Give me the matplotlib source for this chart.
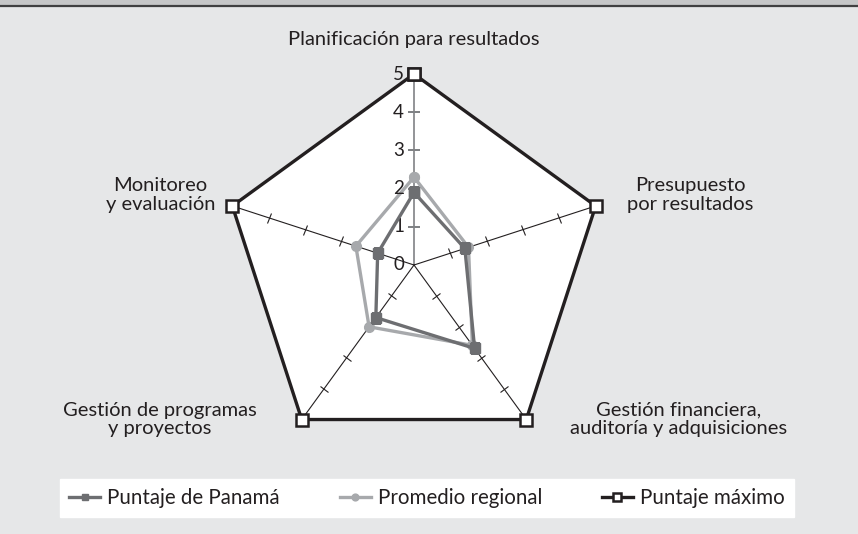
import numpy as np
import matplotlib.pyplot as plt
from matplotlib.markers import MarkerStyle
from matplotlib.transforms import Affine2D
from matplotlib.lines import Line2D
from matplotlib.patches import Rectangle

plt.rcParams['font.family'] = ['Lato', 'DejaVu Sans']

# datos
categorias = ["Planificación para resultados", "Presupuesto\npor resultados",
              "Gestión financiera,\nauditoría y adquisiciones",
              "Gestión de programas\ny proyectos", "Monitoreo\ny evaluación"]
panama = [1.9, 1.4, 2.7, 1.7, 1.0]
regional = [2.3, 1.5, 2.6, 2.0, 1.6]
maximo = [5, 5, 5, 5, 5]
niveles = [0, 1, 2, 3, 4, 5]
series = ["Puntaje de Panamá", "Promedio regional", "Puntaje máximo"]

W, H = 858, 534
fig = plt.figure(figsize=(W / 100, H / 100), dpi=100)
fig.patch.set_facecolor('#e6e7e8')

# franja superior
fig.add_artist(Rectangle((0, 1 - 5 / H), 1, 5 / H, transform=fig.transFigure,
                         color='#c6c7c8', lw=0))
fig.add_artist(Line2D([0, 1], [1 - 6 / H, 1 - 6 / H], transform=fig.transFigure,
                      color='#404041', lw=1.6))

cx, cy, rad = 414, 265, 191
ax = fig.add_axes([(cx - rad) / W, (H - cy - rad) / H, 2 * rad / W, 2 * rad / H],
                  projection='polar')
ax.set_theta_offset(np.pi / 2)
ax.set_theta_direction(-1)
ax.set_ylim(0, 5)
ax.set_facecolor('none')
ax.grid(False)
ax.spines['polar'].set_visible(False)
ax.set_xticks([])
ax.set_yticks([])

n = len(categorias)
ang = np.arange(n) * 2 * np.pi / n
ang_c = np.append(ang, ang[0])

def cerrar(v):
    return np.append(v, v[0])

# fondo blanco dentro del pentágono
ax.fill(ang_c, cerrar(maximo), color='white', zorder=0)

# ejes radiales con marcas
for i, a in enumerate(ang):
    col = '#808285' if i == 0 else '#231f20'
    lw = 1.2 if i == 0 else 0.8
    ax.plot([a, a], [0, 5], color=col, lw=lw, zorder=1)
    rot = 90 - np.degrees(a)  # ángulo en pantalla
    m = MarkerStyle('|', transform=Affine2D().rotate_deg(rot))
    ax.plot([a] * 4, niveles[1:5], ls='none', marker=m, ms=9 if i == 0 else 7,
            mec=col, mew=lw, zorder=1)

for v in niveles:
    ax.annotate(str(v), xy=(0, v), xytext=(-10, 0), textcoords='offset pixels',
                ha='right', va='center', fontsize=13.5, color='#231f20')

ax.plot(ang_c, cerrar(maximo), color='#231f20', lw=2.4, marker='s', ms=8,
        mfc='white', mec='#231f20', mew=1.8, zorder=4, clip_on=False,
        label=series[2])
ax.plot(ang_c, cerrar(regional), color='#a7a9ac', lw=2.4, marker='o', ms=7,
        zorder=2, label=series[1])
ax.plot(ang_c, cerrar(panama), color='#6d6e71', lw=2.4, marker='s', ms=7,
        zorder=3, label=series[0])

# etiquetas de categorías
offs = [(0, 34), (95, 11), (152, 0), (-142, 0), (-72, 11)]
for a, lab, o in zip(ang, categorias, offs):
    ax.annotate(lab, xy=(a, 5), xytext=o, textcoords='offset pixels',
                ha='center', va='center', fontsize=14.5, color='#231f20',
                linespacing=1.1, annotation_clip=False)

# leyenda
h, l = ax.get_legend_handles_labels()
orden = [2, 1, 0]
leg = fig.legend([h[i] for i in orden], [l[i] for i in orden], loc='center',
                 bbox_to_anchor=(427 / W, 1 - 498 / H), ncol=3, frameon=True,
                 fancybox=False, fontsize=14.8, handlelength=1.5,
                 handletextpad=0.35, columnspacing=2.9, borderpad=0.45,
                 markerscale=0.7)
leg.get_frame().set_edgecolor('white')
leg.get_frame().set_facecolor('white')
leg.get_frame().set_alpha(1)
for t in leg.get_texts():
    t.set_color('#231f20')

fig.savefig('out.png', dpi=100, facecolor=fig.get_facecolor())
